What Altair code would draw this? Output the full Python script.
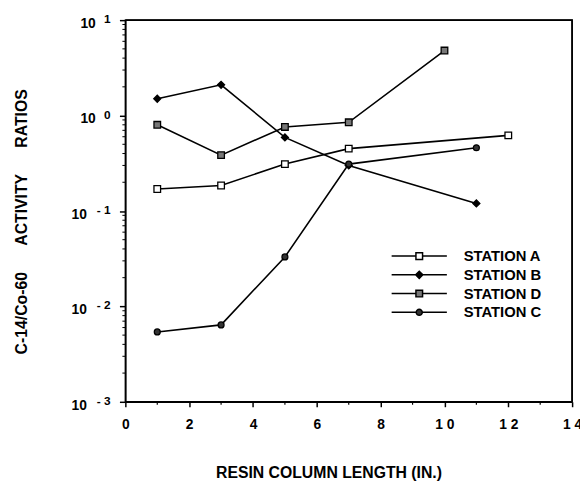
import altair as alt
import pandas as pd

FONT = "Liberation Sans"
NB = "\u00a0"

# ---- data ----
series_order = ["STATION A", "STATION B", "STATION D", "STATION C"]
length_a = [1, 3, 5, 7, 12]
ratio_a = [0.17, 0.185, 0.31, 0.45, 0.62]
length_b = [1, 3, 5, 7, 11]
ratio_b = [1.5, 2.1, 0.59, 0.30, 0.12]
length_d = [1, 3, 5, 7, 10]
ratio_d = [0.80, 0.385, 0.76, 0.85, 4.8]
length_c = [1, 3, 5, 7, 11]
ratio_c = [0.0054, 0.0064, 0.033, 0.31, 0.46]

# ---- axis ticks ----
y_major = [0.001, 0.01, 0.1, 1, 10]
y_exponents = ["- 3", "- 2", "- 1", "0", "1"]
y_minor = [0.002, 0.003, 0.004, 0.005, 0.006, 0.007, 0.008, 0.009,
           0.02, 0.03, 0.04, 0.05, 0.06, 0.07, 0.08, 0.09,
           0.2, 0.3, 0.4, 0.5, 0.6, 0.7, 0.8, 0.9,
           2, 3, 4, 5, 6, 7, 8, 9]
x_major = [0, 2, 4, 6, 8, 10, 12, 14]
x_minor = [1, 3, 5, 7, 9, 11, 13]
# frame corners (top-left -> top-right -> bottom-right), in data units of the axes' ends
frame_x = [0, 14, 14]
frame_y = [10, 10, 0.001]

# ---- styling ----
marker_shapes = ["square", "diamond", "square", "circle"]
marker_sizes = [45, 50, 45, 36]
marker_fills = ["white", "black", "#777777", "#333333"]
marker_strokes = ["black", "black", "black", "black"]
legend_paths = [
    "M-1,0H-0.12M0.12,0H1M-0.12,-0.12H0.12V0.12H-0.12Z",
    "M-1,0H1M0,-0.13L0.13,0L0,0.13L-0.13,0Z",
    "M-1,0H-0.12M0.12,0H1M-0.12,-0.12H0.12V0.12H-0.12Z",
    "M-1,0H-0.11M0.11,0H1M-0.11,0A0.11,0.11 0 1,0 0.11,0A0.11,0.11 0 1,0 -0.11,0Z",
]

rows = []
for name, xs, ys in [("STATION A", length_a, ratio_a), ("STATION B", length_b, ratio_b),
                     ("STATION D", length_d, ratio_d), ("STATION C", length_c, ratio_c)]:
    for xv, yv in zip(xs, ys):
        rows.append({"series": name, "x": xv, "y": yv})
df = pd.DataFrame(rows)

ymin_df = pd.DataFrame({"y": y_minor})
xmin_df = pd.DataFrame({"x": x_minor})
exp_df = pd.DataFrame({"y": y_major, "exp": y_exponents})
frame_df = pd.DataFrame({"x": frame_x, "y": frame_y, "k": [0, 1, 2]})

xscale = alt.Scale(domain=[0, 14], nice=False, zero=False)
yscale = alt.Scale(type="log", domain=[0.001, 10], nice=False)

y_title = "C-14/Co-60" + NB * 6 + "ACTIVITY" + NB * 6 + "RATIOS"

x_axis = alt.Axis(
    values=x_major,
    title="RESIN COLUMN LENGTH (IN.)",
    labelExpr="datum.value >= 10 ? '1 ' + (datum.value - 10) : '' + datum.value",
    labelFont=FONT, labelFontSize=14, labelFontWeight="bold", labelColor="black",
    labelPadding=11, labelFlush=False, labelOverlap=False,
    tickSize=5, tickWidth=1.5, tickColor="black",
    domainColor="black", domainWidth=1.5, grid=False,
    titleFont=FONT, titleFontSize=16, titleFontWeight="bold", titleColor="black",
    titleX=206, titleY=77, titleAlign="center", titleBaseline="alphabetic",
)
y_axis = alt.Axis(
    values=y_major,
    title=y_title,
    labels=False,
    tickSize=6, tickWidth=1.5, tickColor="black",
    domainColor="black", domainWidth=1.5, grid=False,
    titleFont=FONT, titleFontSize=16, titleFontWeight="bold", titleColor="black",
    titleX=-105, titleY=204, titleAlign="center", titleBaseline="middle", titleAngle=270,
)

lines = alt.Chart(df).mark_line(color="black", strokeWidth=1.6).encode(
    x=alt.X("x:Q", scale=xscale, axis=x_axis),
    y=alt.Y("y:Q", scale=yscale, axis=y_axis),
    detail="series:N",
    order="x:Q",
)

# plot frame drawn as a polyline along the top and right edges
frame = alt.Chart(frame_df).mark_line(color="black", strokeWidth=1.6, clip=False).encode(
    x=alt.X("x:Q", scale=xscale),
    y=alt.Y("y:Q", scale=yscale),
    order="k:Q",
)

y_minor_ticks = alt.Chart(ymin_df).mark_rule(color="black", strokeWidth=1).encode(
    y=alt.Y("y:Q", scale=yscale),
    x=alt.value(-3),
    x2=alt.value(0),
)

x_minor_ticks = alt.Chart(xmin_df).mark_rule(color="black", strokeWidth=1.2).encode(
    x=alt.X("x:Q", scale=xscale),
    y=alt.value(387),
    y2=alt.value(390),
)

point_layers = []
for name, shp, sz, fl in zip(series_order, marker_shapes, marker_sizes, marker_fills):
    point_layers.append(
        alt.Chart(df).transform_filter(alt.datum.series == name).mark_point(
            shape=shp, size=sz, filled=True, fill=fl, stroke="black", strokeWidth=1.3, opacity=1
        ).encode(
            x=alt.X("x:Q", scale=xscale),
            y=alt.Y("y:Q", scale=yscale),
        )
    )

# y tick labels "10" with raised exponents
base_pos = alt.Chart(exp_df).transform_filter(alt.datum.y >= 1).mark_text(
    align="right", baseline="middle", dy=4, font=FONT, fontSize=14, fontWeight="bold", color="black"
).encode(y=alt.Y("y:Q", scale=yscale), x=alt.value(-30), text=alt.value("10"))
base_neg = alt.Chart(exp_df).transform_filter(alt.datum.y < 1).mark_text(
    align="right", baseline="middle", dy=4, font=FONT, fontSize=14, fontWeight="bold", color="black"
).encode(y=alt.Y("y:Q", scale=yscale), x=alt.value(-39), text=alt.value("10"))

exponents = alt.Chart(exp_df).mark_text(
    align="right", baseline="middle", dy=-1, font=FONT, fontSize=12, fontWeight="bold", color="black"
).encode(
    y=alt.Y("y:Q", scale=yscale),
    x=alt.value(-15),
    text="exp:N",
)

legend_props = dict(
    title=None, orient="none", legendX=269, legendY=231, padding=0,
    symbolSize=3136, symbolStrokeWidth=1.5, symbolStrokeColor="black",
    clipHeight=16.5, rowPadding=2, labelOffset=16,
    labelFont=FONT, labelFontSize=15, labelFontWeight="bold", labelColor="black",
)

legend_layer = alt.Chart(df).transform_filter("false").mark_point(
    filled=True, strokeWidth=1.5, size=3136, opacity=1
).encode(
    x=alt.X("x:Q", scale=xscale),
    y=alt.Y("y:Q", scale=yscale),
    shape=alt.Shape("series:N", scale=alt.Scale(domain=series_order, range=legend_paths),
                    legend=alt.Legend(**legend_props)),
    fill=alt.Fill("series:N", scale=alt.Scale(domain=series_order, range=marker_fills),
                  legend=alt.Legend(**legend_props)),
    stroke=alt.Stroke("series:N", scale=alt.Scale(domain=series_order, range=marker_strokes),
                      legend=alt.Legend(**legend_props)),
)

chart = alt.layer(
    lines, frame, y_minor_ticks, x_minor_ticks, *point_layers,
    base_pos, base_neg, exponents, legend_layer
).properties(
    width=453, height=387,
    padding={"left": 119, "top": 9, "right": 8, "bottom": 78},
    autosize=alt.AutoSizeParams(type="none"),
    background="white",
).configure(
    font=FONT
).configure_view(
    stroke="black", strokeWidth=1.5
)

chart.save("out.html", embed_options={"renderer": "svg", "actions": False})
